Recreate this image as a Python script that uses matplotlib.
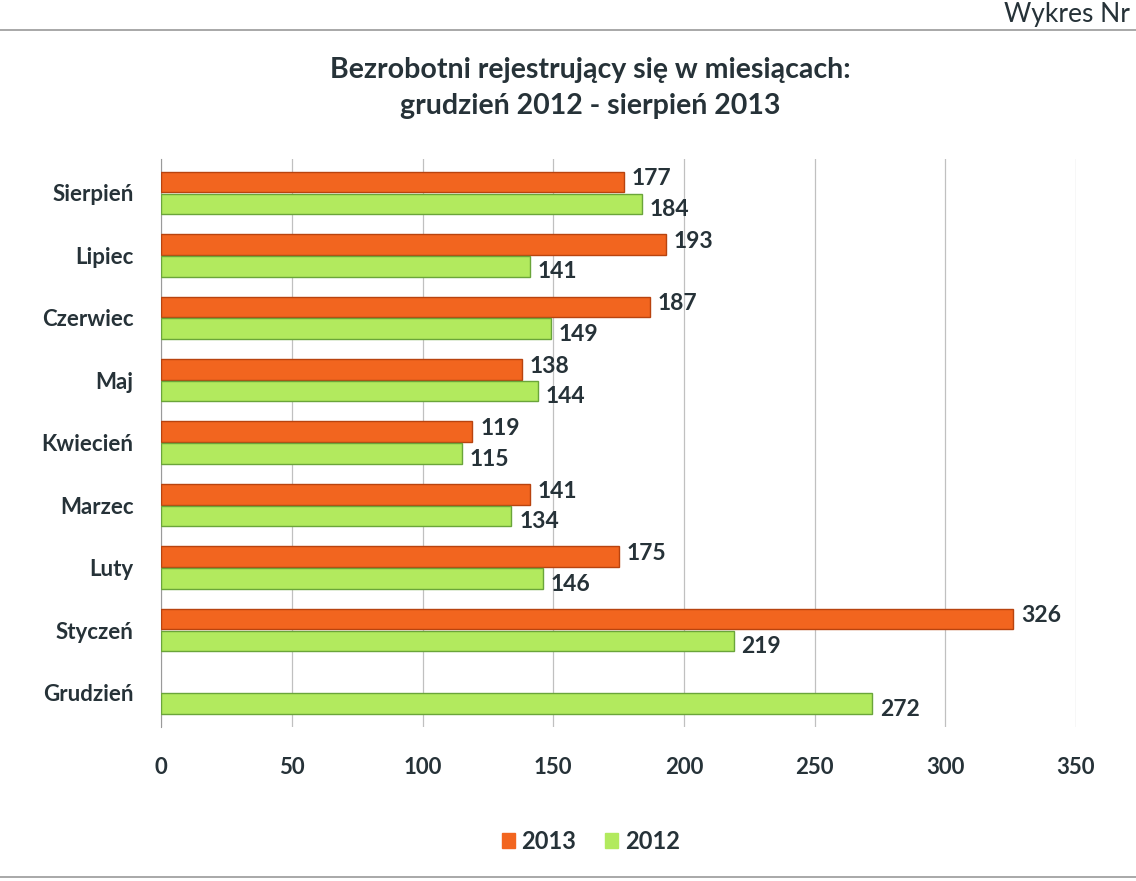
import matplotlib
matplotlib.use("Agg")
import matplotlib.pyplot as plt
import numpy as np
from matplotlib.patches import Patch

months = ["Grudzień", "Styczeń", "Luty", "Marzec", "Kwiecień", "Maj", "Czerwiec", "Lipiec", "Sierpień"]
v2013 = [None, 326, 175, 141, 119, 138, 187, 193, 177]
v2012 = [272, 219, 146, 134, 115, 144, 149, 141, 184]
xticks = [0, 50, 100, 150, 200, 250, 300, 350]

plt.rcParams['font.family'] = ['Lato', 'DejaVu Sans']
txt = '#263238'
orange = '#f2651f'
orange_e = '#b8430f'
green = '#b2ea5e'
green_e = '#6aa53a'

fig = plt.figure(figsize=(11.36, 8.81), dpi=100)
ax = fig.add_axes([0.142, 0.175, 0.805, 0.645])

y = np.arange(len(months))
h = 0.33
for i, (a, b) in enumerate(zip(v2013, v2012)):
    if a is not None:
        ax.barh(y[i] + h / 2 + 0.01, a, height=h, color=orange, edgecolor=orange_e, linewidth=1.0, zorder=3)
        ax.text(a + 3, y[i] + h / 2 + 0.06, str(a), ha='left', va='center', fontsize=16.5, fontweight='bold', color=txt, zorder=4)
    ax.barh(y[i] - h / 2 - 0.01, b, height=h, color=green, edgecolor=green_e, linewidth=1.0, zorder=3)
    ax.text(b + 3, y[i] - h / 2 - 0.1, str(b), ha='left', va='center', fontsize=16.5, fontweight='bold', color=txt, zorder=4)

ax.set_xlim(0, 350)
ax.set_ylim(-0.55, 8.55)
ax.set_xticks(xticks)
ax.set_xticklabels([str(t) for t in xticks], fontsize=16, fontweight='bold', color=txt)
ax.set_yticks(y)
ax.set_yticklabels(months, fontsize=16, fontweight='bold', color=txt)
ax.tick_params(axis='y', length=0, pad=20)
ax.tick_params(axis='x', length=0, pad=22)
ax.grid(axis='x', color='#c0c0c0', linewidth=0.9, zorder=0)
for s in ['top', 'right', 'bottom']:
    ax.spines[s].set_visible(False)
ax.spines['left'].set_color('#9a9a9a')

fig.text(0.52, 0.9, "Bezrobotni rejestrujący się w miesiącach:\ngrudzień 2012 - sierpień 2013",
         ha='center', va='center', fontsize=20.5, fontweight='bold', color=txt, linespacing=1.45)
fig.text(0.995, 0.984, "Wykres Nr", ha='right', va='center', fontsize=19, color=txt)

handles = [Patch(facecolor=orange, edgecolor=orange), Patch(facecolor=green, edgecolor=green)]
leg = fig.legend(handles, ['2013', '2012'], loc='center', bbox_to_anchor=(0.52, 0.045), ncol=2,
                 frameon=False, prop={'size': 17, 'weight': 'bold'}, handlelength=0.55, handleheight=0.55,
                 handletextpad=0.3, columnspacing=1.2)
for t in leg.get_texts():
    t.set_color(txt)

fig.add_artist(plt.Line2D([0, 1], [0.966, 0.966], color='#9a9a9a', linewidth=1.2))
fig.add_artist(plt.Line2D([0.0, 1], [0.004, 0.004], color='#9a9a9a', linewidth=1.2))

fig.savefig("out.png", dpi=100, facecolor='white')
